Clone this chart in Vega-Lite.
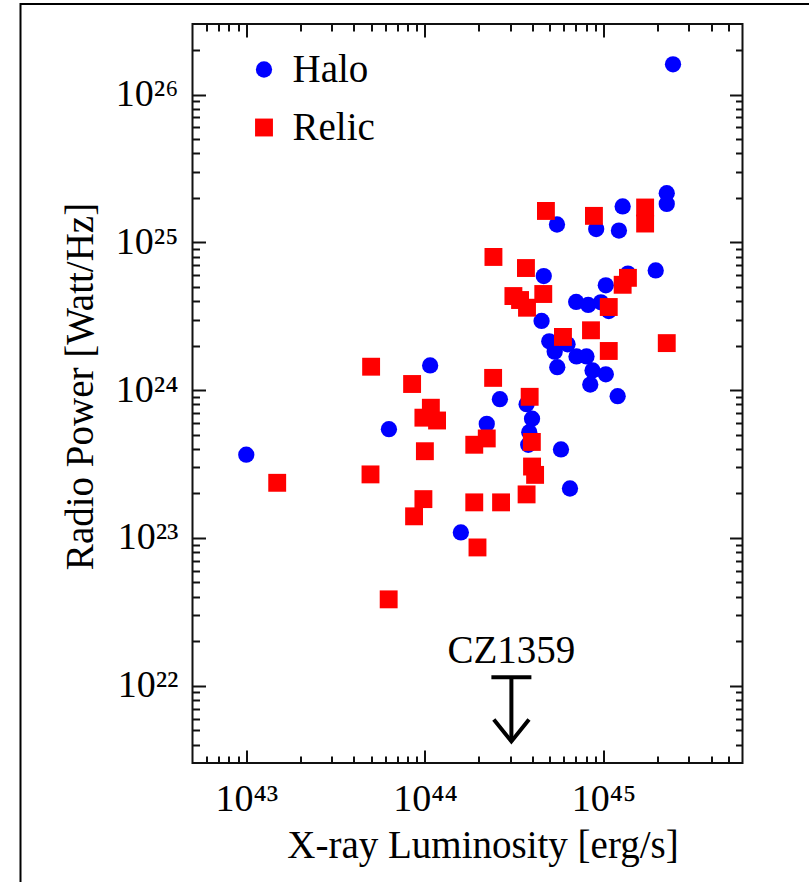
{
  "$schema": "https://vega.github.io/schema/vega-lite/v6.json",
  "width": 550,
  "height": 739,
  "autosize": {"type": "none"},
  "padding": {"left": 192.5, "top": 24, "right": 66.5, "bottom": 119},
  "background": "white",
  "config": {
    "view": {"stroke": "#111111", "strokeWidth": 2},
    "font": "Liberation Serif",
    "axis": {
      "grid": false,
      "domain": false,
      "tickColor": "#111111",
      "tickWidth": 2,
      "labelFont": "Liberation Serif",
      "titleFont": "Liberation Serif",
      "labelColor": "black",
      "titleColor": "black",
      "titleFontWeight": "normal"
    }
  },
  "datasets": {
    "clusters": [
      {"type": "Halo", "Lx": 1.00e43, "P": 3.66e23},
      {"type": "Halo", "Lx": 6.29e43, "P": 5.44e23},
      {"type": "Halo", "Lx": 1.07e44, "P": 1.47e24},
      {"type": "Halo", "Lx": 1.59e44, "P": 1.09e23},
      {"type": "Halo", "Lx": 2.22e44, "P": 5.91e23},
      {"type": "Halo", "Lx": 2.63e44, "P": 8.68e23},
      {"type": "Halo", "Lx": 3.71e44, "P": 8.03e23},
      {"type": "Halo", "Lx": 3.98e44, "P": 6.41e23},
      {"type": "Halo", "Lx": 3.84e44, "P": 5.19e23},
      {"type": "Halo", "Lx": 3.79e44, "P": 4.27e23},
      {"type": "Halo", "Lx": 5.78e44, "P": 3.97e23},
      {"type": "Halo", "Lx": 6.49e44, "P": 2.16e23},
      {"type": "Halo", "Lx": 4.50e44, "P": 2.94e24},
      {"type": "Halo", "Lx": 4.97e44, "P": 2.14e24},
      {"type": "Halo", "Lx": 6.29e44, "P": 2.04e24},
      {"type": "Halo", "Lx": 5.33e44, "P": 1.82e24},
      {"type": "Halo", "Lx": 5.51e44, "P": 1.43e24},
      {"type": "Halo", "Lx": 7.06e44, "P": 1.69e24},
      {"type": "Halo", "Lx": 8.03e44, "P": 1.69e24},
      {"type": "Halo", "Lx": 8.68e44, "P": 1.36e24},
      {"type": "Halo", "Lx": 1.03e45, "P": 1.28e24},
      {"type": "Halo", "Lx": 8.43e44, "P": 1.09e24},
      {"type": "Halo", "Lx": 1.20e45, "P": 9.10e23},
      {"type": "Halo", "Lx": 7.03e44, "P": 3.95e24},
      {"type": "Halo", "Lx": 8.21e44, "P": 3.77e24},
      {"type": "Halo", "Lx": 9.67e44, "P": 3.93e24},
      {"type": "Halo", "Lx": 1.07e45, "P": 3.43e24},
      {"type": "Halo", "Lx": 1.03e45, "P": 5.12e24},
      {"type": "Halo", "Lx": 1.37e45, "P": 6.14e24},
      {"type": "Halo", "Lx": 1.96e45, "P": 6.45e24},
      {"type": "Halo", "Lx": 4.63e44, "P": 5.91e24},
      {"type": "Halo", "Lx": 5.49e44, "P": 1.32e25},
      {"type": "Halo", "Lx": 9.10e44, "P": 1.23e25},
      {"type": "Halo", "Lx": 1.22e45, "P": 1.20e25},
      {"type": "Halo", "Lx": 1.28e45, "P": 1.75e25},
      {"type": "Halo", "Lx": 2.26e45, "P": 2.15e25},
      {"type": "Halo", "Lx": 2.26e45, "P": 1.82e25},
      {"type": "Halo", "Lx": 2.45e45, "P": 1.60e26},
      {"type": "Relic", "Lx": 1.49e43, "P": 2.36e23},
      {"type": "Relic", "Lx": 5.00e43, "P": 1.44e24},
      {"type": "Relic", "Lx": 8.48e43, "P": 1.10e24},
      {"type": "Relic", "Lx": 1.08e44, "P": 7.60e23},
      {"type": "Relic", "Lx": 9.81e43, "P": 6.51e23},
      {"type": "Relic", "Lx": 1.17e44, "P": 6.23e23},
      {"type": "Relic", "Lx": 1.00e44, "P": 3.86e23},
      {"type": "Relic", "Lx": 4.96e43, "P": 2.69e23},
      {"type": "Relic", "Lx": 9.81e43, "P": 1.83e23},
      {"type": "Relic", "Lx": 8.70e43, "P": 1.40e23},
      {"type": "Relic", "Lx": 6.27e43, "P": 3.84e22},
      {"type": "Relic", "Lx": 1.89e44, "P": 4.27e23},
      {"type": "Relic", "Lx": 2.22e44, "P": 4.71e23},
      {"type": "Relic", "Lx": 1.89e44, "P": 1.74e23},
      {"type": "Relic", "Lx": 2.67e44, "P": 1.74e23},
      {"type": "Relic", "Lx": 1.97e44, "P": 8.62e22},
      {"type": "Relic", "Lx": 2.41e44, "P": 1.21e24},
      {"type": "Relic", "Lx": 3.86e44, "P": 9.01e23},
      {"type": "Relic", "Lx": 3.97e44, "P": 4.46e23},
      {"type": "Relic", "Lx": 3.98e44, "P": 3.04e23},
      {"type": "Relic", "Lx": 4.14e44, "P": 2.67e23},
      {"type": "Relic", "Lx": 3.71e44, "P": 1.97e23},
      {"type": "Relic", "Lx": 3.13e44, "P": 4.33e24},
      {"type": "Relic", "Lx": 3.41e44, "P": 4.07e24},
      {"type": "Relic", "Lx": 3.73e44, "P": 3.61e24},
      {"type": "Relic", "Lx": 4.60e44, "P": 4.47e24},
      {"type": "Relic", "Lx": 2.42e44, "P": 7.96e24},
      {"type": "Relic", "Lx": 3.68e44, "P": 6.70e24},
      {"type": "Relic", "Lx": 4.76e44, "P": 1.63e25},
      {"type": "Relic", "Lx": 8.84e44, "P": 1.51e25},
      {"type": "Relic", "Lx": 1.71e45, "P": 1.72e25},
      {"type": "Relic", "Lx": 1.71e45, "P": 1.34e25},
      {"type": "Relic", "Lx": 5.93e44, "P": 2.29e24},
      {"type": "Relic", "Lx": 8.51e44, "P": 2.54e24},
      {"type": "Relic", "Lx": 1.07e45, "P": 1.84e24},
      {"type": "Relic", "Lx": 2.26e45, "P": 2.08e24},
      {"type": "Relic", "Lx": 1.07e45, "P": 3.65e24},
      {"type": "Relic", "Lx": 1.28e45, "P": 5.16e24},
      {"type": "Relic", "Lx": 1.37e45, "P": 5.75e24}
    ],
    "limits": [
      {"name": "CZ1359", "Lx": 3.05e44, "P_limit": 1.14e22, "P_tip": 4.2e21, "P_label": 1.42e22}
    ]
  },
  "layer": [
    {
      "data": {"values": [{}]},
      "mark": {"type": "rect", "fillOpacity": 0, "stroke": "black", "strokeWidth": 2, "clip": false},
      "encoding": {
        "x": {"value": -172},
        "x2": {"value": 700},
        "y": {"value": -20},
        "y2": {"value": 900}
      }
    },
    {
      "data": {"name": "clusters"},
      "mark": {"type": "point", "filled": true, "opacity": 1, "strokeWidth": 0},
      "encoding": {
        "x": {
          "field": "Lx", "type": "quantitative",
          "scale": {"type": "log", "domain": [5e42, 6e45], "nice": false},
          "axis": {
            "orient": "bottom",
            "values": [1e43, 1e44, 1e45],
            "tickSize": -13,
            "labelPadding": 30,
            "labelBaseline": "top",
            "labelFontSize": 38,
            "labelExpr": "datum.value == 1e43 ? '10⁴³' : datum.value == 1e44 ? '10⁴⁴' : '10⁴⁵'",
            "title": "X-ray Luminosity [erg/s]",
            "titleFontSize": 39,
            "titleX": 290,
            "titleY": 94.5,
            "titleAlign": "center",
            "titleBaseline": "alphabetic"
          }
        },
        "y": {
          "field": "P", "type": "quantitative",
          "scale": {"type": "log", "domain": [3e21, 3e26], "nice": false},
          "axis": {
            "orient": "left",
            "values": [1e22, 1e23, 1e24, 1e25, 1e26],
            "tickSize": -13,
            "labelPadding": 27.5,
            "labelFontSize": 38,
            "labelExpr": "datum.value == 1e22 ? '10²²' : datum.value == 1e23 ? '10²³' : datum.value == 1e24 ? '10²⁴' : datum.value == 1e25 ? '10²⁵' : '10²⁶'",
            "title": "Radio Power [Watt/Hz]",
            "titleFontSize": 39,
            "titleAngle": -90,
            "titleX": -100.5,
            "titleY": 362,
            "titleAlign": "center",
            "titleBaseline": "alphabetic"
          }
        },
        "color": {
          "field": "type", "type": "nominal",
          "scale": {"domain": ["Halo", "Relic"], "range": ["#0000ff", "#ff0000"]},
          "legend": {
            "orient": "none",
            "legendX": 52,
            "legendY": 26,
            "title": null,
            "padding": 0,
            "labelFont": "Liberation Serif",
            "labelFontSize": 39,
            "labelColor": "black",
            "labelOffset": 9,
            "rowPadding": 18,
            "symbolStrokeWidth": 0
          }
        },
        "shape": {
          "field": "type", "type": "nominal",
          "scale": {"domain": ["Halo", "Relic"], "range": ["circle", "square"]}
        },
        "size": {
          "field": "type", "type": "nominal",
          "scale": {"domain": ["Halo", "Relic"], "range": [265, 320]}
        }
      }
    },
    {
      "data": {"name": "limits"},
      "mark": {"type": "rule", "color": "black", "strokeWidth": 4},
      "encoding": {
        "x": {
          "field": "Lx", "type": "quantitative",
          "scale": {"type": "log", "domain": [5e42, 6e45], "nice": false},
          "axis": {
            "orient": "bottom",
            "values": [6e42, 7e42, 8e42, 9e42, 2e43, 3e43, 4e43, 5e43, 6e43, 7e43, 8e43, 9e43, 2e44, 3e44, 4e44, 5e44, 6e44, 7e44, 8e44, 9e44, 2e45, 3e45, 4e45, 5e45],
            "tickSize": -7,
            "labels": false,
            "title": null
          }
        },
        "y": {
          "field": "P_limit", "type": "quantitative",
          "scale": {"type": "log", "domain": [3e21, 3e26], "nice": false},
          "axis": {
            "orient": "left",
            "values": [4e21, 5e21, 6e21, 7e21, 8e21, 9e21, 2e22, 3e22, 4e22, 5e22, 6e22, 7e22, 8e22, 9e22, 2e23, 3e23, 4e23, 5e23, 6e23, 7e23, 8e23, 9e23, 2e24, 3e24, 4e24, 5e24, 6e24, 7e24, 8e24, 9e24, 2e25, 3e25, 4e25, 5e25, 6e25, 7e25, 8e25, 9e25, 2e26],
            "tickSize": -7,
            "labels": false,
            "title": null
          }
        },
        "y2": {"field": "P_tip"}
      }
    },
    {
      "data": {"name": "limits"},
      "mark": {"type": "tick", "orient": "horizontal", "color": "black", "size": 40, "thickness": 4, "opacity": 1},
      "encoding": {
        "x": {
          "field": "Lx", "type": "quantitative",
          "scale": {"type": "log", "domain": [5e42, 6e45], "nice": false},
          "axis": {
            "orient": "top",
            "values": [1e43, 1e44, 1e45],
            "tickSize": -13,
            "labels": false,
            "title": null
          }
        },
        "y": {
          "field": "P_limit", "type": "quantitative",
          "scale": {"type": "log", "domain": [3e21, 3e26], "nice": false},
          "axis": {
            "orient": "right",
            "values": [1e22, 1e23, 1e24, 1e25, 1e26],
            "tickSize": -13,
            "labels": false,
            "title": null
          }
        }
      }
    },
    {
      "data": {"name": "limits"},
      "mark": {"type": "point", "shape": "M-0.8,-1L0,0L0.8,-1", "size": 1936, "filled": false, "stroke": "black", "strokeWidth": 4, "opacity": 1, "strokeJoin": "miter"},
      "encoding": {
        "x": {
          "field": "Lx", "type": "quantitative",
          "scale": {"type": "log", "domain": [5e42, 6e45], "nice": false},
          "axis": {
            "orient": "top",
            "values": [6e42, 7e42, 8e42, 9e42, 2e43, 3e43, 4e43, 5e43, 6e43, 7e43, 8e43, 9e43, 2e44, 3e44, 4e44, 5e44, 6e44, 7e44, 8e44, 9e44, 2e45, 3e45, 4e45, 5e45],
            "tickSize": -7,
            "labels": false,
            "title": null
          }
        },
        "y": {
          "field": "P_tip", "type": "quantitative",
          "scale": {"type": "log", "domain": [3e21, 3e26], "nice": false},
          "axis": {
            "orient": "right",
            "values": [4e21, 5e21, 6e21, 7e21, 8e21, 9e21, 2e22, 3e22, 4e22, 5e22, 6e22, 7e22, 8e22, 9e22, 2e23, 3e23, 4e23, 5e23, 6e23, 7e23, 8e23, 9e23, 2e24, 3e24, 4e24, 5e24, 6e24, 7e24, 8e24, 9e24, 2e25, 3e25, 4e25, 5e25, 6e25, 7e25, 8e25, 9e25, 2e26],
            "tickSize": -7,
            "labels": false,
            "title": null
          }
        }
      }
    },
    {
      "data": {"name": "limits"},
      "mark": {"type": "text", "font": "Liberation Serif", "fontSize": 39, "color": "black", "align": "center", "baseline": "alphabetic"},
      "encoding": {
        "x": {"field": "Lx", "type": "quantitative", "scale": {"type": "log", "domain": [5e42, 6e45], "nice": false}, "axis": null},
        "y": {"field": "P_label", "type": "quantitative", "scale": {"type": "log", "domain": [3e21, 3e26], "nice": false}, "axis": null},
        "text": {"field": "name"}
      }
    }
  ],
  "resolve": {"axis": {"x": "independent", "y": "independent"}}
}
